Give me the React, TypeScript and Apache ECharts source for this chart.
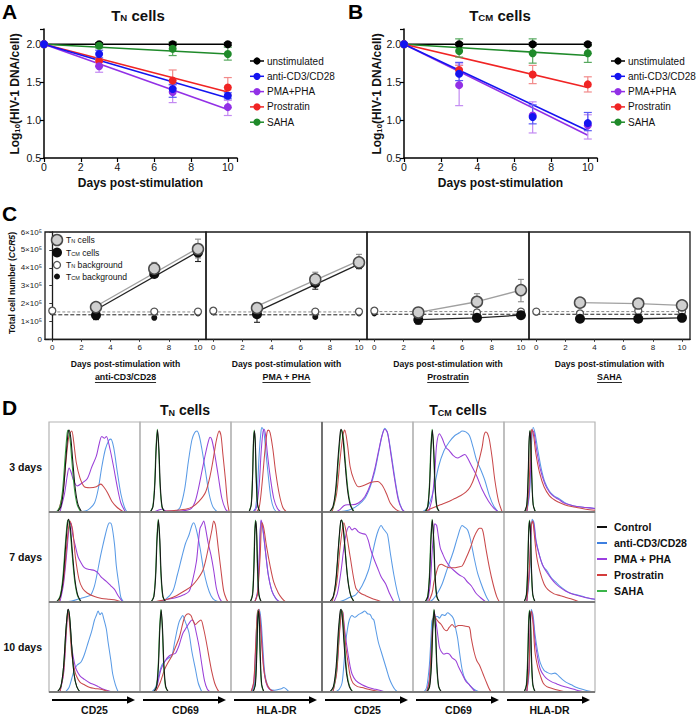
import React, { useEffect, useRef } from 'react';
import * as echarts from 'echarts';

const FONT = '"Liberation Sans", Arial, Helvetica, sans-serif';

// ---------------- Panels A / B ----------------
const days = [0, 3, 7, 10];
const treatments = ['unstimulated', 'anti-CD3/CD28', 'PMA+PHA', 'Prostratin', 'SAHA'];
const treatColors = ['#000000', '#1414f0', '#9230e6', '#f02424', '#1f8a2a'];
const treatErrColors = ['#333333', '#5a5af5', '#c38af2', '#f28a8a', '#56a85e'];

// values at days 0,3,7,10
const tnValues = [
  [2, 2, 2, 2],
  [2, 1.87, 1.41, 1.32],
  [2, 1.71, 1.37, 1.17],
  [2, 1.78, 1.52, 1.43],
  [2, 1.98, 1.94, 1.87],
];
// [low, high] at days 3,7,10
const tnErrors = [
  [[1.98, 2.02], [1.98, 2.02], [1.98, 2.02]],
  [[1.82, 1.92], [1.3, 1.47], [1.28, 1.36]],
  [[1.63, 1.76], [1.23, 1.46], [1.06, 1.26]],
  [[1.72, 1.8], [1.42, 1.66], [1.33, 1.56]],
  [[1.95, 2.0], [1.85, 2.03], [1.79, 1.96]],
];
const tnFitStart = [2, 2, 2, 2, 2];
const tnFitEnd = [2, 1.29, 1.14, 1.37, 1.87];

const tcmValues = [
  [2, 2, 2, 2],
  [2, 1.61, 1.04, 0.96],
  [2, 1.46, 1.06, 0.93],
  [2, 1.66, 1.6, 1.47],
  [2, 1.91, 1.88, 1.88],
];
const tcmErrors = [
  [[1.98, 2.02], [1.98, 2.02], [1.98, 2.02]],
  [[1.52, 1.76], [0.95, 1.2], [0.86, 1.1]],
  [[1.19, 1.74], [0.83, 1.24], [0.75, 1.07]],
  [[1.6, 1.72], [1.48, 1.72], [1.37, 1.57]],
  [[1.83, 2.07], [1.75, 2.07], [1.76, 1.98]],
];
const tcmFitStart = [2, 2, 2, 2, 2];
const tcmFitEnd = [2, 0.86, 0.8, 1.43, 1.85];
const fitDays = [0, 10];

// ---------------- Panel C ----------------
const cTreatments = ['anti-CD3/CD28', 'PMA + PHA', 'Prostratin', 'SAHA'];
const cTicks = [0, 2, 4, 6, 8, 10];
const cLegend = ['T_N cells', 'T_CM cells', 'T_N background', 'T_CM background'];
const cTNcells = [
  [[3, 1.8], [7, 3.95], [10, 5.05]],
  [[3, 1.75], [7, 3.35], [10, 4.3]],
  [[3, 1.5], [7, 2.1], [10, 2.75]],
  [[3, 2.05], [7, 2.0], [10, 1.9]],
];
const cTNerr = [
  [[1.55, 2.05], [3.65, 4.3], [4.55, 5.6]],
  [[1.5, 2.0], [3.0, 3.75], [4.0, 4.75]],
  [[1.3, 1.75], [1.65, 2.55], [2.1, 3.35]],
  [[1.9, 2.2], [1.8, 2.25], [1.7, 2.1]],
];
const cTCMcells = [
  [[3, 1.35], [7, 3.65], [10, 4.85]],
  [[3, 1.4], [7, 3.15], [10, 4.2]],
  [[3, 1.1], [7, 1.2], [10, 1.35]],
  [[3, 1.15], [7, 1.15], [10, 1.2]],
];
const cTCMerr = [
  [[1.1, 1.9], [3.5, 3.9], [4.35, 5.3]],
  [[0.95, 1.85], [2.8, 3.4], [3.95, 4.45]],
  [[0.85, 1.35], [1.0, 1.4], [1.2, 1.45]],
  [[1.0, 1.3], [1.05, 1.25], [1.1, 1.3]],
];
const cTNbg = [
  [[0, 1.6], [7, 1.55], [10, 1.55]],
  [[0, 1.6], [7, 1.55], [10, 1.55]],
  [[0, 1.6], [7, 1.5], [10, 1.55]],
  [[0, 1.55], [3, 1.45], [7, 1.6], [10, 1.55]],
];
const cTCMbg = [
  [[0, 1.5], [3, 1.45], [7, 1.2], [10, 1.45]],
  [[0, 1.5], [7, 1.25], [10, 1.45]],
  [[0, 1.45], [7, 1.4], [10, 1.45]],
  [[0, 1.5], [7, 1.35], [10, 1.4]],
];
const cTNbgLevel = [1.53, 1.53, 1.55, 1.55];
const cTCMbgLevel = [1.37, 1.37, 1.4, 1.4];
const cTNfit = [
  [[3, 1.85], [10, 5.1]],
  [[3, 1.85], [10, 4.4]],
  [[3, 1.5], [7, 2.1], [10, 2.75]],
  [[3, 2.05], [7, 2.0], [10, 1.9]],
];
const cTCMfit = [
  [[3, 1.65], [10, 4.9]],
  [[3, 1.55], [10, 4.2]],
  [[3, 1.1], [7, 1.2], [10, 1.35]],
  [[3, 1.15], [7, 1.15], [10, 1.2]],
];

// ---------------- Panel D ----------------
const dRows = ['3 days', '7 days', '10 days'];
const dMarkers = ['CD25', 'CD69', 'HLA-DR', 'CD25', 'CD69', 'HLA-DR'];
const dLegend = ['Control', 'anti-CD3/CD28', 'PMA + PHA', 'Prostratin', 'SAHA'];
const dColors = ['#161616', '#5a9be6', '#9a3fd8', '#c9494b', '#2f9e3a'];
const dLegendColors = ['#111111', '#3d7fe0', '#9b3fe0', '#d43c3c', '#3bb54a'];

// histogram curves, cells ordered row by row (3, 7, 10 days), columns CD25, CD69, HLA-DR (TN), CD25, CD69, HLA-DR (TCM)
const histControl = [
  [[9,0],[13,6],[16,25],[19,65],[21,88],[22,91],[24,82],[26,58],[29,25],[32,8],[36,0]],
  [[11.3,0],[14.3,6],[16.3,30],[17.8,70],[19.3,91],[20.8,70],[22.3,30],[24.3,6],[27.3,0]],
  [[19.8,0],[22.3,8],[23.8,40],[24.8,78],[25.8,90],[26.8,76],[27.8,38],[29.3,8],[31.8,0]],
  [[8,0],[12,6],[15,25],[18,65],[20,88],[21,92],[23,82],[25,58],[28,25],[31,8],[35,0]],
  [[13.3,0],[16.3,6],[18.3,30],[19.8,70],[21.3,91],[22.8,70],[24.3,30],[26.3,6],[29.3,0]],
  [[22.5,0],[25,8],[26.5,40],[27.5,78],[28.5,90],[29.5,76],[30.5,38],[32,8],[34.5,0]],
  [[8.5,0],[12.5,6],[15.5,25],[18.5,65],[20.5,88],[21.5,92],[23.5,82],[25.5,58],[28.5,25],[31.5,8],[35.5,0]],
  [[12.3,0],[15.3,6],[17.3,30],[18.8,70],[20.3,91],[21.8,70],[23.3,30],[25.3,6],[28.3,0]],
  [[21.3,0],[23.8,8],[25.3,40],[26.3,78],[27.3,90],[28.3,76],[29.3,38],[30.8,8],[33.3,0]],
  [[8.3,0],[12.3,6],[15.3,25],[18.3,65],[20.3,88],[21.3,91],[23.3,82],[25.3,58],[28.3,25],[31.3,8],[35.3,0]],
  [[13.3,0],[16.3,6],[18.3,30],[19.8,70],[21.3,91],[22.8,70],[24.3,30],[26.3,6],[29.3,0]],
  [[22.2,0],[24.7,8],[26.2,40],[27.2,78],[28.2,90],[29.2,76],[30.2,38],[31.7,8],[34.2,0]],
  [[9,0],[13,6],[16,28],[18.5,68],[20.5,90],[21.3,92],[23,80],[25,50],[27.5,20],[30.5,6],[34,0]],
  [[15.3,0],[18.3,6],[20.3,30],[21.8,70],[23.3,91],[24.8,70],[26.3,30],[28.3,6],[31.3,0]],
  [[24.3,0],[26.8,8],[28.3,40],[29.3,78],[30.3,90],[31.3,76],[32.3,38],[33.8,8],[36.3,0]],
  [[8.5,0],[12.5,6],[15.5,28],[18,68],[20,90],[21,92],[22.5,80],[24.5,50],[27,20],[30,6],[33.5,0]],
  [[15.3,0],[18.3,6],[20.3,30],[21.8,70],[23.3,91],[24.8,70],[26.3,30],[28.3,6],[31.3,0]],
  [[22.3,0],[24.8,8],[26.3,40],[27.3,78],[28.3,90],[29.3,76],[30.3,38],[31.8,8],[34.3,0]],
];
const histSAHA = [
  [[8,0],[12,6],[15,25],[18,65],[20,88],[21,91],[23,82],[25,58],[28,25],[31,8],[35,0]],
  [[11,0],[14,6],[16,30],[17.5,70],[19,92],[20.5,70],[22,30],[24,6],[27,0]],
  [[19.6,0],[22.1,8],[23.6,40],[24.6,78],[25.6,91],[26.6,76],[27.6,38],[29.1,8],[31.6,0]],
  [[8.5,0],[12.5,6],[15.5,25],[18.5,65],[20.5,88],[21.5,91],[23.5,82],[25.5,58],[28.5,25],[31.5,8],[35.5,0]],
  [[13,0],[16,6],[18,30],[19.5,70],[21,92],[22.5,70],[24,30],[26,6],[29,0]],
  [[22.7,0],[25.2,8],[26.7,40],[27.7,78],[28.7,91],[29.7,76],[30.7,38],[32.2,8],[34.7,0]],
  [[8,0],[12,6],[15,25],[18,65],[20,88],[21,91],[23,82],[25,58],[28,25],[31,8],[35,0]],
  [[12,0],[15,6],[17,30],[18.5,70],[20,92],[21.5,70],[23,30],[25,6],[28,0]],
  [[21,0],[23.5,8],[25,40],[26,78],[27,91],[28,76],[29,38],[30.5,8],[33,0]],
  [[8.5,0],[12.5,6],[15.5,25],[18.5,65],[20.5,88],[21.5,91],[23.5,82],[25.5,58],[28.5,25],[31.5,8],[35.5,0]],
  [[13,0],[16,6],[18,30],[19.5,70],[21,92],[22.5,70],[24,30],[26,6],[29,0]],
  [[22,0],[24.5,8],[26,40],[27,78],[28,91],[29,76],[30,38],[31.5,8],[34,0]],
  [[9,0],[13,6],[16,28],[18.5,68],[20.5,90],[21.5,91],[23,80],[25,50],[27.5,20],[30.5,6],[34,0]],
  [[15,0],[18,6],[20,30],[21.5,70],[23,92],[24.5,70],[26,30],[28,6],[31,0]],
  [[24,0],[26.5,8],[28,40],[29,78],[30,91],[31,76],[32,38],[33.5,8],[36,0]],
  [[9,0],[13,6],[16,28],[18.5,68],[20.5,90],[21.5,91],[23,80],[25,50],[27.5,20],[30.5,6],[34,0]],
  [[15,0],[18,6],[20,30],[21.5,70],[23,92],[24.5,70],[26,30],[28,6],[31,0]],
  [[22,0],[24.5,8],[26,40],[27,78],[28,91],[29,76],[30,38],[31.5,8],[34,0]],
];
const histAnti = [
  [[30,0],[40,1],[45,4],[50,10],[54,25],[58,50],[62,70],[66,80],[68,81],[71,72],[75,45],[79,20],[83,5],[86,0]],
  [[38,0],[44,5],[49,25],[53,55],[57,80],[60,88],[62.5,90],[65,85],[68,70],[72,45],[76,20],[80,6],[85,0]],
  [[24,0],[27,5],[29,25],[31,65],[33,90],[34,94],[36,90],[38,70],[41,40],[44,15],[47,4],[50,0]],
  [[15,0],[25,1],[32,3],[40,8],[47,15],[53,28],[58,45],[62,65],[66,85],[69,93],[72,88],[76,65],[80,38],[84,15],[88,3],[91,0]],
  [[10,0],[16,5],[22,22],[28,50],[34,68],[40,78],[46,85],[51,88],[54,90],[58,89],[62,85],[66,72],[70,57],[74,48],[79,35],[84,18],[89,6],[94,0]],
  [[25,0],[28,20],[30,70],[32,94],[34,88],[37,70],[41,48],[45,33],[50,23],[55,18],[60,15],[66,11],[72,8],[80,6],[90,5],[100,4]],
  [[15,0],[25,1],[35,4],[42,6],[46,8],[50,18],[53,32],[56,48],[59,62],[62,75],[65,86],[67,88],[69,85],[72,64],[74,40],[77,18],[79,5],[82,0]],
  [[20,0],[28,3],[36,12],[41,30],[46,50],[50,65],[54,75],[57,85],[59,88],[62,80],[66,60],[70,35],[74,18],[78,7],[82,2],[87,0]],
  [[26,0],[29,10],[31,45],[33,90],[35,80],[38,55],[41,30],[45,12],[49,4],[53,0]],
  [[18,0],[24,2],[30,5],[37,8],[44,18],[51,35],[55,52],[59,70],[62,80],[65,85],[67,82],[70,78],[72,75],[75,55],[79,30],[83,10],[86,0]],
  [[18,0],[22,3],[27,10],[32,20],[38,38],[44,55],[49,72],[54,85],[57,83],[60,80],[63,70],[67,50],[71,32],[75,20],[78,12],[81,5],[84,0]],
  [[25,0],[28,30],[30,80],[31,92],[33,88],[35,70],[37,60],[41,45],[44,38],[47,35],[52,27],[57,22],[61,18],[66,14],[72,10],[80,8],[87,6],[94,4],[100,3]],
  [[18,0],[22,5],[25,15],[28,25],[31,30],[35,33],[39,42],[43,55],[47,68],[50,80],[52,85],[54,90],[56,86],[58,88],[60,82],[63,70],[65,55],[68,35],[70,20],[73,8],[76,0]],
  [[13,0],[17,5],[21,20],[24,30],[28,35],[32,38],[35,40],[38,55],[41,70],[43,78],[45,82],[47,85],[49,80],[52,72],[54,65],[57,45],[61,25],[64,10],[68,0]],
  [[23,0],[26,10],[28,45],[30,88],[31,92],[33,80],[35,50],[37,22],[40,8],[43,3],[48,2],[53,3],[56,4],[58,5],[61,3],[64,0]],
  [[15,0],[19,3],[22,10],[24,30],[26,55],[28,70],[30,80],[33,85],[36,83],[40,86],[44,88],[47,90],[50,87],[53,86],[55,82],[57,80],[59,70],[62,55],[65,45],[68,35],[71,25],[74,15],[77,8],[80,3],[83,0]],
  [[12,0],[15,5],[18,30],[20,65],[21,80],[24,83],[27,84],[29,82],[32,86],[35,85],[38,88],[41,86],[43,84],[45,80],[47,70],[49,60],[51,45],[54,25],[57,15],[62,8],[67,3],[73,0]],
  [[25,0],[27.5,20],[29,70],[30,92],[32,85],[34,65],[37,45],[40,32],[44,24],[47,22],[52,20],[56,21],[60,18],[64,14],[68,11],[74,8],[80,5],[86,3],[93,1],[100,0]],
];
const histPMA = [
  [[12,0],[17,20],[20,40],[22,49],[24,45],[27,35],[31,29],[36,32],[42,37],[47,50],[52,62],[55,75],[58,84],[61,82],[63,84],[67,70],[71,50],[75,28],[79,10],[84,0]],
  [[15,0],[20,2],[24,3],[30,1],[40,1],[55,3],[60,10],[64,25],[68,45],[72,65],[75,78],[77,83],[79,80],[82,65],[86,40],[90,15],[94,3],[97,0]],
  [[25,0],[28,5],[31,30],[33,65],[35,88],[36.5,92],[38,85],[40,65],[43,40],[47,15],[51,4],[55,0]],
  [[15,0],[20,3],[24,7],[28,8],[33,8],[40,10],[47,17],[53,30],[58,48],[62,67],[66,85],[69,92],[72,88],[76,62],[80,35],[84,13],[88,3],[91,0]],
  [[17,0],[21,15],[24,45],[26,75],[29,87],[32,82],[36,72],[40,68],[44,63],[49,60],[53,62],[57,64],[60,60],[64,52],[70,40],[76,25],[83,12],[89,4],[94,0]],
  [[25,0],[28,25],[30,75],[31,91],[33,88],[36,68],[40,47],[45,31],[50,22],[55,17],[60,14],[66,10],[72,8],[80,6],[90,5],[100,4]],
  [[12,0],[16,20],[20,60],[22,82],[24,88],[26,75],[29,62],[32,50],[35,44],[38,39],[41,37],[45,36],[50,35],[54,32],[58,27],[63,23],[68,18],[72,14],[76,7],[81,0]],
  [[22,0],[30,3],[40,5],[48,8],[54,12],[58,25],[62,45],[64,65],[66,82],[68,86],[70,90],[72,82],[75,65],[78,52],[81,35],[84,15],[87,5],[90,0]],
  [[26,0],[29,10],[31,50],[33,91],[35,82],[38,55],[41,30],[45,12],[50,3],[54,0]],
  [[13,0],[17,10],[21,35],[24,60],[27,78],[30,84],[33,80],[36,82],[40,78],[44,76],[48,75],[51,68],[53,60],[57,48],[61,38],[65,28],[70,20],[74,10],[79,0]],
  [[16,0],[19,20],[21,55],[23,80],[24,87],[26,85],[28,72],[30,60],[32,55],[36,46],[40,40],[45,35],[51,30],[56,27],[60,22],[64,18],[69,10],[74,5],[80,0]],
  [[25,0],[28,35],[30,85],[31.5,90],[33,85],[35,68],[38,55],[42,42],[47,33],[52,26],[57,20],[62,16],[68,12],[75,9],[82,7],[89,5],[95,4],[100,3]],
  [[12,0],[16,20],[19,65],[21,92],[23,75],[25,50],[28,32],[30,25],[34,18],[39,14],[45,10],[50,8],[54,6],[60,3],[66,1],[70,0]],
  [[15,0],[19,8],[23,25],[28,35],[32,40],[36,42],[39,43],[43,52],[47,65],[50,70],[53,75],[55,78],[57,80],[59,78],[62,65],[65,50],[68,30],[71,12],[74,3],[77,0]],
  [[22,0],[25,10],[27,45],[29.5,91],[31,90],[33,70],[35,40],[37,18],[40,6],[44,2],[50,0]],
  [[12,0],[16,22],[19,65],[21,88],[22.5,90],[24,78],[26,60],[29,40],[31,28],[33,20],[37,13],[44,8],[51,5],[59,3],[66,1],[71,0]],
  [[15,0],[18,15],[20,50],[22,80],[23.5,88],[25,80],[27,65],[29,50],[31,45],[34,42],[37,43],[40,42],[43,38],[47,35],[50,28],[54,20],[58,12],[62,8],[66,3],[69,0]],
  [[25,0],[27.5,25],[29,75],[30,90],[32,80],[34,58],[37,38],[40,25],[44,18],[48,14],[53,11],[58,9],[63,7],[70,5],[77,3],[84,1],[90,0]],
];
const histProstratin = [
  [[10,0],[15,20],[19,60],[22,85],[25,90],[27,79],[30,55],[34,38],[39,28],[45,27],[52,28],[57,31],[60,28],[64,22],[69,12],[75,5],[82,0]],
  [[20,0],[30,1],[40,2],[50,3],[58,6],[65,12],[72,22],[77,40],[81,62],[84,80],[87,90],[89,85],[91,65],[94,35],[96,12],[98,0]],
  [[28,0],[31,5],[34,30],[37,65],[39.5,88],[41,91],[43,88],[46,70],[49,45],[53,20],[57,5],[61,0]],
  [[11,0],[16,20],[20,60],[23,85],[25,91],[28,75],[31,50],[35,36],[40,28],[47,30],[54,33],[61,34],[66,30],[71,20],[75,10],[81,3],[87,0]],
  [[12,0],[20,4],[30,8],[40,12],[46,15],[52,18],[58,22],[63,28],[68,40],[72,55],[76,72],[78,85],[80,89],[82,87],[84,80],[87,60],[90,35],[94,12],[98,0]],
  [[25,0],[27.5,30],[29.5,80],[30.5,92],[32.5,85],[35,65],[39,44],[44,28],[50,18],[56,13],[62,10],[70,7],[80,5],[90,3],[100,2]],
  [[11,0],[16,25],[20,68],[23,90],[26,80],[29,50],[33,25],[37,15],[42,10],[50,6],[58,4],[66,3],[74,2],[80,0]],
  [[15,0],[20,1],[30,3],[40,7],[50,13],[57,18],[63,25],[69,35],[73,50],[76,65],[79,80],[81,90],[83,85],[86,60],[89,35],[92,12],[95,3],[97,0]],
  [[26,0],[29,8],[32,50],[34,88],[36,82],[39,62],[43,40],[47,22],[52,10],[56,4],[60,0]],
  [[11,0],[16,20],[20,62],[23,85],[24,88],[27,75],[31,50],[37,16],[42,10],[48,7],[55,4],[61,2],[66,0]],
  [[17,0],[21,10],[23,22],[25,30],[28,40],[31,42],[35,40],[40,38],[45,38],[50,39],[54,40],[58,48],[63,60],[67,72],[71,80],[73,82],[75,82],[77,78],[80,60],[84,38],[88,20],[92,6],[95,0]],
  [[25,0],[28,40],[30,85],[31.5,90],[33,78],[36,50],[40,32],[44,20],[48,14],[55,9],[62,7],[68,5],[75,3],[83,0]],
  [[12,0],[16,22],[19,68],[21,90],[23,70],[25,42],[28,25],[30,18],[34,11],[39,8],[45,5],[50,4],[57,3],[64,1],[70,0]],
  [[17,0],[22,10],[27,25],[31,33],[35,40],[39,50],[43,60],[46,72],[48,80],[50,85],[53,87],[56,85],[58,80],[61,75],[64,78],[67,80],[70,70],[73,55],[76,38],[79,22],[82,10],[85,3],[87,0]],
  [[22,0],[25,12],[27,50],[29,88],[30.5,92],[32,80],[34,50],[36,25],[39,10],[43,3],[48,0]],
  [[12,0],[16,20],[19,62],[21,86],[22.5,90],[24,75],[26,52],[29,30],[31,18],[34,10],[39,6],[44,5],[51,3],[60,1],[67,0]],
  [[15,0],[18,12],[20,45],[22,78],[23.5,85],[25,82],[28,78],[31,75],[34,70],[37,68],[40,72],[43,75],[46,72],[50,74],[54,74],[58,73],[62,72],[64,60],[67,45],[70,35],[73,30],[77,20],[81,10],[84,3],[86,0]],
  [[25,0],[27.5,28],[29,78],[30,90],[32,75],[34,45],[37,28],[40,18],[43,10],[47,6],[53,4],[60,2],[68,0]],
];

// ---------------- helpers ----------------
function rich(size: number, bold: boolean, color = '#111') {
  const w = bold ? 'bold' : 'normal';
  const s = Math.round(size * 0.64 * 10) / 10;
  return {
    a: { fontSize: size, fontWeight: w, fontFamily: FONT, fill: color, color, lineHeight: size, verticalAlign: 'top' },
    i: { fontSize: size, fontWeight: w, fontStyle: 'italic', fontFamily: FONT, fill: color, color, lineHeight: size, verticalAlign: 'top' },
    s: { fontSize: s, fontWeight: w, fontFamily: FONT, fill: color, color, lineHeight: s, padding: [size * 0.45, 0, 0, 0], verticalAlign: 'bottom' },
  };
}
function toRich(label: string) {
  const m = label.match(/^T_(N|CM)(.*)$/);
  if (m) return `{a|T}{s|${m[1]}}{a|${m[2]}}`;
  return `{a|${label}}`;
}
function text(x: number, y: number, str: string, size: number, o: any = {}) {
  return {
    type: 'text', x, y, z: 100, rotation: o.rotation || 0, silent: true,
    style: {
      text: str, fontSize: size, fontFamily: FONT, fontWeight: o.bold ? 'bold' : 'normal', fontStyle: o.italic ? 'italic' : 'normal',
      fill: o.color || '#111', align: o.align || 'left', textAlign: o.align || 'left',
      verticalAlign: o.va || 'middle', textVerticalAlign: o.va || 'middle', rich: o.rich,
    },
  };
}
function line(x1: number, y1: number, x2: number, y2: number, stroke: string, lw: number, z = 100) {
  return { type: 'line', z, silent: true, shape: { x1, y1, x2, y2 }, style: { stroke, lineWidth: lw } };
}
function measure(str: string, font: string) {
  const c = document.createElement('canvas').getContext('2d');
  if (!c) return str.length * 5;
  c.font = font;
  return c.measureText(str).width;
}
function errRender(color: string, cap: number, lw: number) {
  return (params: any, api: any) => {
    const x = api.value(0);
    const p1 = api.coord([x, api.value(1)]);
    const p2 = api.coord([x, api.value(2)]);
    const st = { stroke: color, lineWidth: lw };
    return {
      type: 'group',
      children: [
        { type: 'line', shape: { x1: p1[0], y1: p1[1], x2: p2[0], y2: p2[1] }, style: st },
        { type: 'line', shape: { x1: p1[0] - cap, y1: p1[1], x2: p1[0] + cap, y2: p1[1] }, style: st },
        { type: 'line', shape: { x1: p2[0] - cap, y1: p2[1], x2: p2[0] + cap, y2: p2[1] }, style: st },
      ],
    };
  };
}

function buildOption() {
  const grid: any[] = [];
  const xAxis: any[] = [];
  const yAxis: any[] = [];
  const series: any[] = [];
  const g: any[] = [];
  const addGrid = (gr: any, xa: any, ya: any) => {
    grid.push(gr);
    const i = grid.length - 1;
    xAxis.push({ ...xa, gridIndex: i });
    yAxis.push({ ...ya, gridIndex: i });
    return i;
  };

  // ---- A / B ----
  const lineX = {
    type: 'value', min: 0, max: 10.5, interval: 2,
    axisLine: { show: true, onZero: false, lineStyle: { color: '#000', width: 1.5 } },
    axisTick: { show: true, length: 4, lineStyle: { color: '#000', width: 1.2 } },
    axisLabel: { fontSize: 10.5, color: '#111', margin: 3, fontFamily: FONT, formatter: (v: number) => (v % 2 === 0 ? String(v) : '') },
    splitLine: { show: false },
  };
  const lineY = {
    type: 'value', min: 0.5, max: 2.2, interval: 0.5,
    axisLine: { show: true, onZero: false, lineStyle: { color: '#000', width: 1.5 } },
    axisTick: { show: true, length: 4, lineStyle: { color: '#000', width: 1.2 } },
    axisLabel: { fontSize: 10.5, color: '#111', margin: 3, fontFamily: FONT, formatter: (v: number) => (v > 2.05 ? '' : v.toFixed(1)) },
    splitLine: { show: false },
  };
  const order = [0, 4, 3, 2, 1];
  const panels = [
    { gr: { left: 44, top: 29, width: 193, height: 129 }, vals: tnValues, errs: tnErrors, fs: tnFitStart, fe: tnFitEnd, legX: 257, title: 'T_N cells', titleX: 138, yNameX: 15, letter: 'A', letterX: 2 },
    { gr: { left: 404, top: 29, width: 193, height: 129 }, vals: tcmValues, errs: tcmErrors, fs: tcmFitStart, fe: tcmFitEnd, legX: 618, title: 'T_CM cells', titleX: 500, yNameX: 377, letter: 'B', letterX: 348 },
  ];
  panels.forEach((p) => {
    const gi = addGrid(p.gr, lineX, lineY);
    order.forEach((i) => {
      series.push({
        type: 'line', xAxisIndex: gi, yAxisIndex: gi, symbol: 'none', silent: true, z: 2,
        data: [[fitDays[0], p.fs[i]], [fitDays[1], p.fe[i]]],
        lineStyle: { color: treatColors[i], width: 1.6 },
      });
    });
    order.forEach((i) => {
      series.push({
        type: 'custom', xAxisIndex: gi, yAxisIndex: gi, silent: true, z: 3,
        renderItem: errRender(treatErrColors[i], 4, 1.2), encode: { x: 0, y: [1, 2] },
        data: days.slice(1).map((d, k) => [d, p.errs[i][k][0], p.errs[i][k][1]]),
      });
    });
    order.forEach((i) => {
      series.push({
        type: 'scatter', name: treatments[i], xAxisIndex: gi, yAxisIndex: gi, silent: true, z: 4,
        symbol: 'circle', symbolSize: 8, itemStyle: { color: treatColors[i], opacity: 1 },
        data: days.map((d, k) => [d, p.vals[i][k]]),
      });
    });
    // legend
    treatments.forEach((name, i) => {
      const y = 61 + i * 15.3;
      g.push(line(p.legX - 7, y, p.legX + 7, y, treatColors[i], 1.5));
      g.push({ type: 'circle', z: 101, silent: true, shape: { cx: p.legX, cy: y, r: 3.6 }, style: { fill: treatColors[i] } });
      g.push(text(p.legX + 10, y, name, 10));
    });
    g.push(text(p.titleX, 15, toRich(p.title), 15, { bold: true, align: 'center', rich: rich(15, true) }));
    g.push(text(p.gr.left + p.gr.width / 2, 183, 'Days post-stimulation', 12, { bold: true, align: 'center' }));
    g.push(text(p.yNameX, 94, '{a|Log}{s|10}{a|(HIV-1 DNA/cell)}', 12, { bold: true, align: 'center', rotation: Math.PI / 2, rich: rich(12, true) }));
    g.push(text(p.letterX, 1, p.letter, 21, { bold: true, va: 'top', color: '#000' }));
  });

  // ---- C ----
  const cLeft = [45, 206, 367, 529];
  const cRight = [206, 367, 529, 690];
  const cTop = 232;
  const cHeight = 107.3;
  cTreatments.forEach((tr, k) => {
    const gi = addGrid(
      { left: cLeft[k], top: cTop, width: cRight[k] - cLeft[k], height: cHeight, show: true, borderColor: '#1a1a1a', borderWidth: 1.3, backgroundColor: 'transparent' },
      {
        type: 'value', min: -0.5, max: 10.55,
        axisLine: { show: true, onZero: false, lineStyle: { color: '#1a1a1a', width: 1.3 } },
        axisTick: { show: true, length: 2.5, customValues: cTicks, lineStyle: { color: '#333' } },
        axisLabel: { fontSize: 8, color: '#222', margin: 4, fontFamily: FONT, customValues: cTicks },
        splitLine: { show: false },
      },
      k === 0
        ? {
            type: 'value', min: 0, max: 6, interval: 1,
            axisLine: { show: true, lineStyle: { color: '#1a1a1a', width: 1.3 } },
            axisTick: { show: true, length: 3, lineStyle: { color: '#333' } },
            axisLabel: { fontSize: 8, color: '#222', margin: 3, fontFamily: FONT, formatter: (v: number) => (v === 0 ? '0' : `${v}×10⁵`) },
            splitLine: { show: false },
          }
        : { type: 'value', min: 0, max: 6, interval: 1, show: false, splitLine: { show: false } }
    );
    const base = { xAxisIndex: gi, yAxisIndex: gi, silent: true };
    series.push({ ...base, type: 'line', symbol: 'none', z: 2, data: [[0, cTNbgLevel[k]], [10, cTNbgLevel[k]]], lineStyle: { color: '#8a8a8a', width: 1, type: [3, 2] } });
    series.push({ ...base, type: 'line', symbol: 'none', z: 2, data: [[0, cTCMbgLevel[k]], [10, cTCMbgLevel[k]]], lineStyle: { color: '#222', width: 1, type: [4, 2] } });
    series.push({ ...base, type: 'line', symbol: 'none', z: 2, data: cTCMfit[k], lineStyle: { color: '#222', width: 1.3 } });
    series.push({ ...base, type: 'line', symbol: 'none', z: 2, data: cTNfit[k], lineStyle: { color: '#a0a0a0', width: 1.3 } });
    series.push({ ...base, type: 'custom', z: 3, renderItem: errRender('#222', 3, 1.1), encode: { x: 0, y: [1, 2] }, data: cTCMcells[k].map((p, j) => [p[0], cTCMerr[k][j][0], cTCMerr[k][j][1]]) });
    series.push({ ...base, type: 'custom', z: 3, renderItem: errRender('#8a8a8a', 3, 1.1), encode: { x: 0, y: [1, 2] }, data: cTNcells[k].map((p, j) => [p[0], cTNerr[k][j][0], cTNerr[k][j][1]]) });
    series.push({ ...base, type: 'scatter', z: 4, symbol: 'circle', symbolSize: 6, data: cTCMbg[k], itemStyle: { color: '#111', opacity: 1 } });
    series.push({ ...base, type: 'scatter', z: 4, symbol: 'circle', symbolSize: 7, data: cTNbg[k], itemStyle: { color: '#fff', borderColor: '#555', borderWidth: 1.3, opacity: 1 } });
    series.push({ ...base, type: 'scatter', z: 5, symbol: 'circle', symbolSize: 10, data: cTCMcells[k], itemStyle: { color: '#0d0d0d', opacity: 1 } });
    series.push({ ...base, type: 'scatter', z: 6, symbol: 'circle', symbolSize: 11, data: cTNcells[k], itemStyle: { color: '#cfcfcf', borderColor: '#4a4a4a', borderWidth: 1.5, opacity: 1 } });
    const cx = (cLeft[k] + cRight[k]) / 2;
    g.push(text(cx, 364, 'Days post-stimulation with', 8.6, { bold: true, align: 'center' }));
    g.push(text(cx, 377, tr, 8.8, { bold: true, align: 'center' }));
    const w = measure(tr, `bold 8.8px ${FONT}`);
    g.push(line(cx - w / 2, 382.5, cx + w / 2, 382.5, '#111', 0.9));
  });
  g.push(text(12, 283, '{a|Total cell number (}{i|CCR5}{a|)}', 8.6, { bold: true, align: 'center', rotation: Math.PI / 2, rich: rich(8.6, true, '#111') }));
  g.push(text(2, 203, 'C', 21, { bold: true, va: 'top', color: '#000' }));
  // C legend
  const cLegY = [240, 252.5, 265, 276.5];
  const cLegSym = [
    { r: 5.5, fill: '#cfcfcf', stroke: '#4a4a4a', lw: 1.5 },
    { r: 5, fill: '#0d0d0d', stroke: '#0d0d0d', lw: 0 },
    { r: 3.5, fill: '#fff', stroke: '#555', lw: 1.3 },
    { r: 3, fill: '#111', stroke: '#111', lw: 0 },
  ];
  cLegend.forEach((name, i) => {
    const s = cLegSym[i];
    g.push({ type: 'circle', z: 101, silent: true, shape: { cx: 57, cy: cLegY[i], r: s.r }, style: { fill: s.fill, stroke: s.stroke, lineWidth: s.lw } });
    g.push(text(66, cLegY[i], toRich(name), 8.6, { color: '#111', rich: rich(8.6, false, '#111') }));
  });

  // ---- D ----
  const colX = [49, 140, 231, 322, 413, 504, 595];
  const rowY = [422, 512, 602, 692];
  const curves = [histAnti, histPMA, histProstratin, histSAHA, histControl];
  const curveColor = [dColors[1], dColors[2], dColors[3], dColors[4], dColors[0]];
  for (let r = 0; r < 3; r++) {
    for (let c = 0; c < 6; c++) {
      const idx = r * 6 + c;
      const gi = addGrid(
        { left: colX[c], top: rowY[r], width: colX[c + 1] - colX[c], height: rowY[r + 1] - rowY[r], show: true, borderColor: '#b4b4b4', borderWidth: 1.2, backgroundColor: 'transparent' },
        { type: 'value', min: 0, max: 100, show: false, splitLine: { show: false } },
        { type: 'value', min: 0, max: 100, show: false, splitLine: { show: false } }
      );
      curves.forEach((arr, k) => {
        series.push({
          type: 'line', xAxisIndex: gi, yAxisIndex: gi, silent: true, symbol: 'none', smooth: 0.3, z: 2 + k,
          data: arr[idx], lineStyle: { color: curveColor[k], width: 1.05 },
        });
      });
    }
    g.push(line(colX[0], rowY[r + 1], colX[6], rowY[r + 1], '#7a7a7a', 2));
    g.push(text(42, (rowY[r] + rowY[r + 1]) / 2, dRows[r], 10.5, { bold: true, align: 'right' }));
  }
  g.push(line(322, rowY[0], 322, rowY[3], '#6a6a6a', 1.8));
  dMarkers.forEach((m, c) => {
    const x1 = colX[c] + 3;
    const x2 = colX[c + 1] - 6;
    g.push(line(x1, 700, x2 - 5, 700, '#000', 2));
    g.push({ type: 'polygon', z: 101, silent: true, shape: { points: [[x2 + 1, 700], [x2 - 7, 696.3], [x2 - 7, 703.7]] }, style: { fill: '#000' } });
    g.push(text((colX[c] + colX[c + 1]) / 2, 710, m, 10.5, { bold: true, align: 'center' }));
  });
  g.push(text(185, 410, toRich('T_N cells'), 14, { bold: true, align: 'center', rich: rich(14, true) }));
  g.push(text(458, 410, toRich('T_CM cells'), 14, { bold: true, align: 'center', rich: rich(14, true) }));
  g.push(text(2, 397, 'D', 21, { bold: true, va: 'top', color: '#000' }));
  dLegend.forEach((name, i) => {
    const y = 527 + i * 16;
    g.push(line(597, y, 607, y, dLegendColors[i], 2));
    g.push(text(614, y, name, 10.5, { bold: true }));
  });

  return {
    animation: false,
    backgroundColor: '#ffffff',
    textStyle: { fontFamily: FONT },
    grid,
    xAxis,
    yAxis,
    series,
    graphic: { elements: g },
  };
}

export default function App() {
  const ref = useRef<HTMLDivElement>(null);
  useEffect(() => {
    if (!ref.current) return;
    const chart = echarts.init(ref.current, null, { renderer: 'svg' });
    chart.setOption(buildOption() as any);
    return () => chart.dispose();
  }, []);
  return <div ref={ref} style={{ position: 'fixed', left: 0, top: 0, width: 696, height: 715, background: '#fff' }} />;
}
